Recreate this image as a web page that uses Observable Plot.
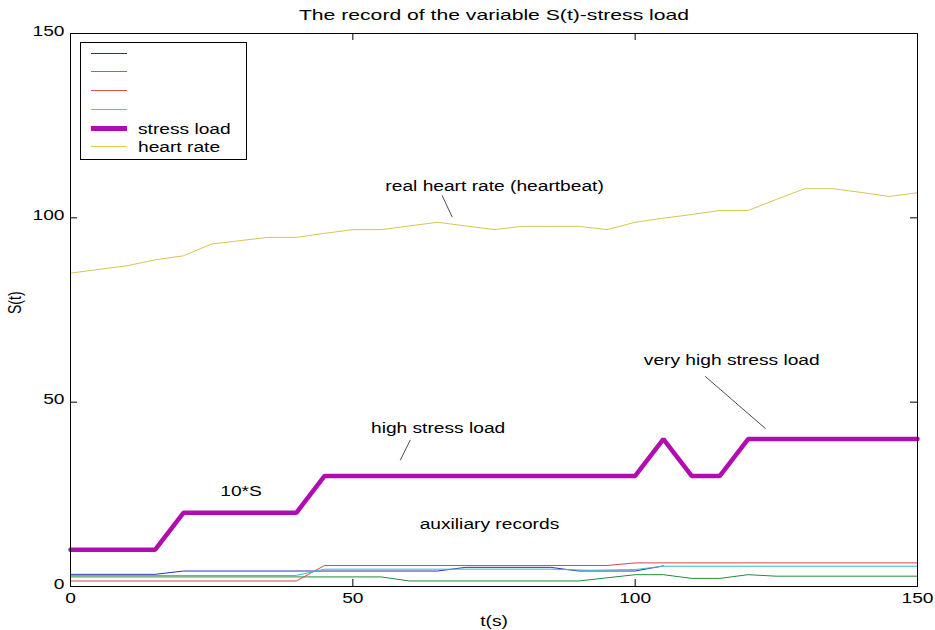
<!DOCTYPE html>
<html><head><meta charset="utf-8">
<script src="https://cdn.jsdelivr.net/npm/d3@7"></script>
<script src="https://cdn.jsdelivr.net/npm/@observablehq/plot@0.6"></script>
<style>
body{margin:0;background:#fff;}
#wrap{position:relative;width:935px;height:630px;background:#fff;}
#wrap svg{display:block;}
</style></head><body><div id="wrap"></div>
<script>
const titleText = "The record of the variable S(t)-stress load";
const xLabel = "t(s)";
const yLabel = "S(t)";
const xTicks = [0, 50, 100, 150];
const yTicks = [0, 50, 100, 150];

// heart rate
const heartT = [0,5,10,15,20,25,30,35,40,45,50,55,60,65,70,75,80,85,90,95,100,105,110,115,120,125,130,135,140,145,150];
const heartV = [85,86,87,88.6,89.7,92.9,93.8,94.7,94.7,95.8,96.8,96.8,97.8,98.8,97.8,96.8,97.7,97.7,97.7,96.8,98.8,99.9,100.9,102,102,105,107.9,107.9,106.9,105.8,106.8];

// stress load (10*S)
const stressT = [0,15,20,40,45,100,105,110,115,120,150];
const stressV = [10,10,20,20,30,30,40,30,30,40,40];

// auxiliary records
const blueT = [0,15,20,65,70,85,90,100,105];
const blueV = [3.3,3.3,4.2,4.2,5.2,5.2,4.2,4.2,5.6];
const greenT = [0,55,60,90,100,105,110,115,120,125,150];
const greenV = [2.6,2.6,1.5,1.5,3.2,3.2,2.2,2.2,3.2,2.8,2.8];
const redT = [0,40,45,95,100,150];
const redV = [1.5,1.5,5.7,5.7,6.4,6.4];
const cyanT = [0,40,45,85,92,100,105,150];
const cyanV = [3.0,3.0,4.7,4.7,4.4,4.6,5.5,5.5];

// annotations
const annoLabel = ["real heart rate (heartbeat)", "high stress load", "10*S", "auxiliary records", "very high stress load"];
const annoT = [75.1, 65.1, 30.2, 74.2, 117.1];
const annoV = [107.3, 41.6, 24.5, 15.5, 60.0];
const leadT1 = [65.8, 60.2, 112.4];
const leadV1 = [106.1, 39.8, 57.0];
const leadT2 = [67.6, 58.4, 123.1];
const leadV2 = [100.2, 34.2, 42.8];

// legend
const legendLabels = ["", "", "", "", "stress load", "heart rate"];
const legendColors = ["#2a2ab0", "#30a848", "#e05050", "#30d0d8", "#b00cb0", "#e0cc40"];
const legendWidths = [1, 1, 1, 1, 4.5, 1];

const colBlue = "#3030b0", colGreen = "#218c38", colRed = "#d84848", colCyan = "#30c0c8";
const colStress = "#b00cb0", colHeart = "#d6c654";

const toRows = (T, V) => T.map((t, i) => ({t, v: V[i]}));
const annoRows = annoLabel.map((s, i) => ({s, t: annoT[i], v: annoV[i]}));
const leadRows = leadT1.map((t, i) => ({x1: t, y1: leadV1[i], x2: leadT2[i], y2: leadV2[i]}));

const W = 935, H = 630, mL = 70, mR = 18, mT = 33, mB = 44;
const pw = W - mL - mR, ph = H - mT - mB;
const tick = 7;

const plot = Plot.plot({
  width: W, height: H,
  marginLeft: mL, marginRight: mR, marginTop: mT, marginBottom: mB,
  style: {fontFamily: "'Liberation Sans', Arial, sans-serif", fontSize: "14px", background: "white", color: "black"},
  x: {domain: [0, 150]},
  y: {domain: [0, 150]},
  marks: [
    Plot.line(toRows(blueT, blueV), {x: "t", y: "v", stroke: colBlue, strokeWidth: 1}),
    Plot.line(toRows(greenT, greenV), {x: "t", y: "v", stroke: colGreen, strokeWidth: 1}),
    Plot.line(toRows(redT, redV), {x: "t", y: "v", stroke: colRed, strokeWidth: 1}),
    Plot.line(toRows(cyanT, cyanV), {x: "t", y: "v", stroke: colCyan, strokeWidth: 1}),
    Plot.line(toRows(stressT, stressV), {x: "t", y: "v", stroke: colStress, strokeWidth: 4.5, strokeLinejoin: "miter"}),
    Plot.line(toRows(heartT, heartV), {x: "t", y: "v", stroke: colHeart, strokeWidth: 1}),
    Plot.link(leadRows, {x1: "x1", y1: "y1", x2: "x2", y2: "y2", stroke: "#222", strokeWidth: 0.8}),
    Plot.text(annoRows, {x: "t", y: "v", text: "s", fill: "black", fontSize: 14}),
    Plot.frame({stroke: "black", strokeWidth: 1}),
    Plot.tickX(xTicks, {x: d => d, insetTop: ph - tick, stroke: "black"}),
    Plot.tickX(xTicks, {x: d => d, insetBottom: ph - tick, stroke: "black"}),
    Plot.tickY(yTicks, {y: d => d, insetRight: pw - tick, stroke: "black"}),
    Plot.tickY(yTicks, {y: d => d, insetLeft: pw - tick, stroke: "black"}),
    Plot.axisX({ticks: xTicks, tickSize: 0, tickPadding: 16, label: null, fontSize: 14}),
    Plot.axisY({ticks: yTicks, tickSize: 0, tickPadding: 6, dy: 2, label: null, fontSize: 14}),
    Plot.text([xLabel], {frameAnchor: "bottom", dy: 39, fontSize: 14}),
    Plot.text([yLabel], {frameAnchor: "left", dx: -50, dy: 4, rotate: -90, fontSize: 14}),
    Plot.text([titleText], {frameAnchor: "top", dy: -14, fontSize: 15})
  ]
});

// horizontal stretch of the text, as in the reference picture
plot.querySelectorAll("text").forEach(el => {
  const s = el.textContent === titleText ? 1.41 : 1.37;
  const tr = el.getAttribute("transform") || "";
  const x = +el.getAttribute("x") || 0, y = +el.getAttribute("y") || 0;
  el.removeAttribute("x"); el.removeAttribute("y");
  const rotated = /rotate/.test(tr);
  el.setAttribute("transform", `${tr} translate(${x},${y}) ${rotated ? `scale(1,${s})` : `scale(${s},1)`}`);
});

const wrap = document.getElementById("wrap");
wrap.appendChild(plot);

// legend overlay
const lg = d3.select(wrap).append("svg")
  .attr("width", 170).attr("height", 120)
  .style("position", "absolute").style("left", "79px").style("top", "42px");
lg.append("rect").attr("x", 1.5).attr("y", 0.5).attr("width", 166).attr("height", 117)
  .attr("fill", "white").attr("stroke", "black").attr("stroke-width", 1);
const rowY = [11.5, 29.5, 48.5, 67.5, 86.5, 104.5];
legendLabels.forEach((lab, i) => {
  lg.append("line").attr("x1", 11.5).attr("x2", 47.5).attr("y1", rowY[i]).attr("y2", rowY[i])
    .attr("stroke", legendColors[i]).attr("stroke-width", legendWidths[i])
    .attr("shape-rendering", "crispEdges");
  if (lab) {
    lg.append("text").attr("transform", `translate(59,${rowY[i] + 5}) scale(1.37,1)`)
      .attr("font-family", "'Liberation Sans', Arial, sans-serif").attr("font-size", 14)
      .text(lab);
  }
});
</script></body></html>
